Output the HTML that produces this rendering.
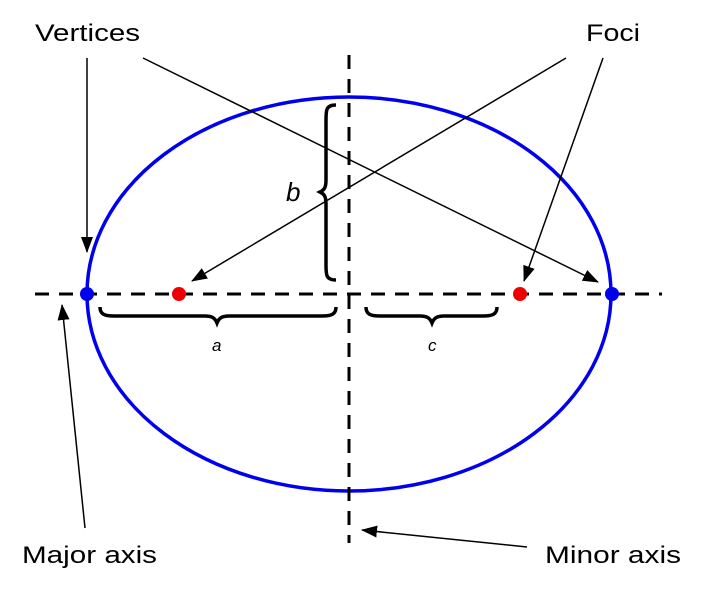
<!DOCTYPE html>
<html><head><style>
html,body{margin:0;padding:0;background:#fff;}
svg{display:block;}
text{font-family:"Liberation Sans",sans-serif;}
</style></head><body>
<svg width="727" height="602" viewBox="0 0 727 602" xmlns="http://www.w3.org/2000/svg">
<defs>
<marker id="ah" markerWidth="16" markerHeight="12" refX="15" refY="6" orient="auto" markerUnits="userSpaceOnUse">
<path d="M0,0 L16,6 L0,12 z" fill="#000"/>
</marker>
</defs>
<ellipse cx="349" cy="294" rx="262" ry="197" fill="none" stroke="#0000ee" stroke-width="3.5"/>
<line x1="35" y1="294" x2="662" y2="294" stroke="#000" stroke-width="3" stroke-dasharray="14,10"/>
<line x1="349" y1="55" x2="349" y2="543" stroke="#000" stroke-width="3" stroke-dasharray="14,10"/>
<path d="M336,105 C326,105 326,110 326,120 L326,180 C326,188 324,190 320,192 C324,194 326,196 326,204 L326,265 C326,275 326,280 336,280" fill="none" stroke="#000" stroke-width="3.5"/>
<path d="M100,307 C100,314 104,316 114,316 L205,316 C212,316 215,318 217,323 C219,318 222,316 229,316 L322,316 C332,316 336,314 336,307" fill="none" stroke="#000" stroke-width="3.5"/>
<path d="M366,307 C366,314 370,316 380,316 L420,316 C427,316 430,318 432,323 C434,318 437,316 444,316 L483,316 C493,316 497,314 497,307" fill="none" stroke="#000" stroke-width="3.5"/>
<text x="286" y="201" font-size="26" font-style="italic">b</text>
<text x="212" y="351" font-size="17" font-style="italic">a</text>
<text x="428" y="351" font-size="17" font-style="italic">c</text>
<g stroke="#000" stroke-width="1.5" marker-end="url(#ah)">
<line x1="87" y1="58" x2="87" y2="252"/>
<line x1="143" y1="58" x2="598" y2="282"/>
<line x1="566" y1="58" x2="192" y2="281"/>
<line x1="603" y1="58" x2="524" y2="281"/>
<line x1="85" y1="528" x2="62" y2="305"/>
<line x1="527" y1="547" x2="362" y2="530"/>
</g>
<circle cx="87" cy="294" r="7" fill="#0000ee"/>
<circle cx="612" cy="294" r="7" fill="#0000ee"/>
<circle cx="179" cy="294" r="7" fill="#ee0000"/>
<circle cx="520" cy="294" r="7" fill="#ee0000"/>
<text x="35" y="41" font-size="24" textLength="105" lengthAdjust="spacingAndGlyphs">Vertices</text>
<text x="586" y="41" font-size="24" textLength="54" lengthAdjust="spacingAndGlyphs">Foci</text>
<text x="22" y="563" font-size="24" textLength="135" lengthAdjust="spacingAndGlyphs">Major axis</text>
<text x="545" y="563" font-size="24" textLength="136" lengthAdjust="spacingAndGlyphs">Minor axis</text>
</svg>
</body></html>
